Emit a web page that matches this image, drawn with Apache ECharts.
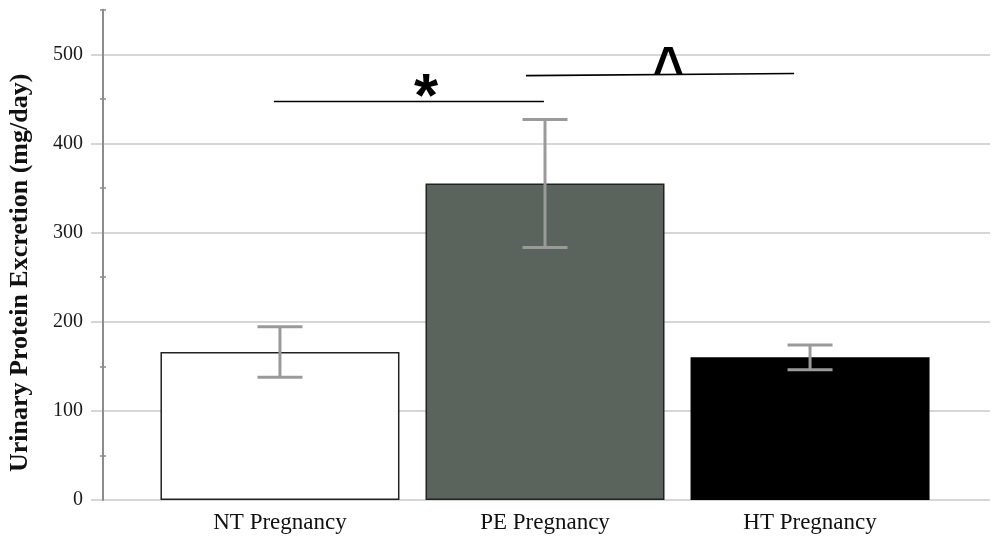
<!DOCTYPE html>
<html><head><meta charset="utf-8">
<script src="https://cdn.jsdelivr.net/npm/echarts@6/dist/echarts.min.js"></script>
<style>html,body{margin:0;padding:0;background:#fff}#c{width:997px;height:537px}</style>
</head><body><div id="c"></div>
<script>
// ---- data ----
const categories = ['NT Pregnancy', 'PE Pregnancy', 'HT Pregnancy'];
const means = [166, 355, 160];
const sems = [28.4, 71.7, 14];
const yTicks = [0, 100, 200, 300, 400, 500];
const yMinorStart = 50;
const yMax = 550;
const sigStartX = [-0.023, 0.928];
const sigEndX = [0.996, 1.94];
const sigStartY = [447, 476];
const sigEndY = [447, 478.5];
const sigMarkX = [0.551, 1.466];
const sigMarkY = [464, 492];
const sigMarks = ['*', '^'];

// ---- styles ----
const barColors = ['#ffffff', '#5b635d', '#000000'];
const barBorders = ['#222222', '#222222', '#000000'];
const serif = '"Liberation Serif", "Times New Roman", serif';
const pxPerUnit = (537 - 37 - 9.7) / yMax;

const chart = echarts.init(document.getElementById('c'), null, {renderer: 'canvas'});
chart.setOption({
  animation: false,
  backgroundColor: '#ffffff',
  grid: [
    {left: 91, right: 7, top: 9.7, bottom: 37, containLabel: false, outerBoundsMode: 'none'},
    {left: 91, right: 7, top: 9.7, bottom: 37 + yMinorStart * pxPerUnit, containLabel: false, outerBoundsMode: 'none'}
  ],
  xAxis: [{
    type: 'value', min: -0.713, max: 2.679, gridIndex: 0,
    axisLine: {show: false, onZero: false}, axisTick: {show: false}, splitLine: {show: false},
    axisLabel: {
      customValues: [0, 1, 2],
      formatter: v => categories[Math.round(v)] || '',
      margin: 11, fontFamily: serif, fontSize: 23, color: '#111'
    }
  }, {
    type: 'value', min: 0, max: 1, gridIndex: 1, show: false
  }],
  yAxis: [{
    type: 'value', min: 0, max: yMax, interval: 50, offset: -12, gridIndex: 0,
    axisLine: {show: true, onZero: false, lineStyle: {color: '#8c8c8c', width: 2}},
    axisTick: {show: false},
    axisLabel: {
      margin: 20, fontFamily: serif, fontSize: 20, color: '#1a1a1a',
      formatter: v => yTicks.includes(v) ? String(v) : ''
    },
    splitLine: {show: true, lineStyle: {color: ['#c8c8c8', 'rgba(0,0,0,0)'], width: 1.5}},
    name: 'Urinary Protein Excretion (mg/day)',
    nameLocation: 'middle', nameGap: 70,
    nameTextStyle: {fontFamily: serif, fontSize: 26, fontWeight: 'bold', color: '#111', padding: [0, 36, 0, 0]}
  }, {
    type: 'value', min: yMinorStart, max: yMax, interval: 100, offset: -15, gridIndex: 1, position: 'left',
    axisLine: {show: false, onZero: false},
    axisTick: {show: true, length: 6, lineStyle: {color: '#8c8c8c', width: 1.5}},
    axisLabel: {show: false}, splitLine: {show: false}
  }],
  series: [{
    type: 'bar',
    barWidth: 239,
    data: means.map((m, i) => ({
      value: [i, m],
      itemStyle: {color: barColors[i], borderColor: barBorders[i], borderWidth: 1.5}
    })),
    z: 2
  }, {
    type: 'custom',
    data: means.map((m, i) => [i, m - sems[i], m + sems[i]]),
    renderItem(params, api) {
      const x = api.value(0);
      const lo = api.coord([x, api.value(1)]);
      const hi = api.coord([x, api.value(2)]);
      const hw = 22.5;
      const st = {stroke: '#9a9a9a', lineWidth: 3};
      return {type: 'group', children: [
        {type: 'line', shape: {x1: lo[0], y1: lo[1], x2: hi[0], y2: hi[1]}, style: st},
        {type: 'line', shape: {x1: lo[0] - hw, y1: lo[1], x2: lo[0] + hw, y2: lo[1]}, style: st},
        {type: 'line', shape: {x1: hi[0] - hw, y1: hi[1], x2: hi[0] + hw, y2: hi[1]}, style: st}
      ]};
    },
    z: 5
  }, {
    type: 'custom',
    data: sigStartX.map((x, i) => [x, sigStartY[i], sigEndX[i], sigEndY[i]]),
    renderItem(params, api) {
      const a = api.coord([api.value(0), api.value(1)]);
      const b = api.coord([api.value(2), api.value(3)]);
      return {type: 'line', shape: {x1: a[0], y1: a[1], x2: b[0], y2: b[1]},
        style: {stroke: '#000', lineWidth: 1.6}};
    },
    z: 6
  }, {
    type: 'custom',
    data: sigMarkX.map((x, i) => [x, sigMarkY[i], i]),
    renderItem(params, api) {
      const p = api.coord([api.value(0), api.value(1)]);
      const i = api.value(2);
      const dy = i === 0 ? 13 : 11;
      return {type: 'text', x: p[0], y: p[1] + dy, scaleX: i === 0 ? 1 : 0.85,
        style: {text: sigMarks[i], fill: '#000', align: 'center', verticalAlign: 'middle',
          font: 'bold 62px "Liberation Sans", Arial, sans-serif'}};
    },
    z: 7
  }]
});
</script></body></html>
